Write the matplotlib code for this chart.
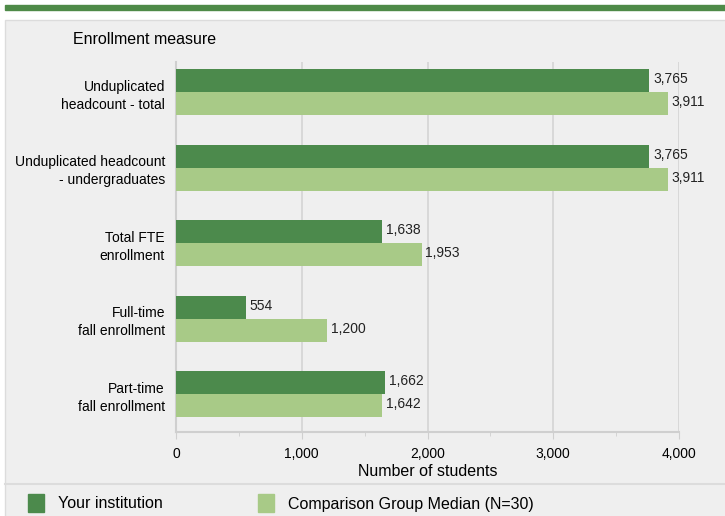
import numpy as np
import matplotlib.pyplot as plt
from matplotlib.patches import Rectangle

plt.rcParams['font.family'] = ['Liberation Sans', 'DejaVu Sans']

categories = ["Unduplicated\nheadcount - total",
              "Unduplicated headcount\n- undergraduates",
              "Total FTE\nenrollment",
              "Full-time\nfall enrollment",
              "Part-time\nfall enrollment"]
your_inst = [3765, 3765, 1638, 554, 1662]
comparison = [3911, 3911, 1953, 1200, 1642]
series_names = ["Your institution", "Comparison Group Median (N=30)"]

dark = "#4c8a4c"
light = "#a8ca87"
panel = "#efefef"

fig = plt.figure(figsize=(7.25, 5.16), dpi=100)
fig.patch.set_facecolor("white")

# top band and panel background (drawn behind the axes)
fig.add_artist(Rectangle((5/725, 1 - 10/516), 720/725, 5/516,
                         transform=fig.transFigure, color="#4e8a48", zorder=-5))
fig.add_artist(Rectangle((5/725, -0.01), 721/725, 1.01 - 20/516,
                         transform=fig.transFigure, facecolor=panel,
                         edgecolor="#dcdcdc", lw=1, zorder=-5))
fig.add_artist(plt.Line2D([5/725, 1], [1 - 484/516] * 2, transform=fig.transFigure,
                          color="#dcdcdc", lw=1.5, zorder=-4))

ax = fig.add_axes([176/725, 1 - 432/516, (679 - 176)/725, (432 - 62)/516])
ax.set_facecolor(panel)
ax.set_zorder(1)

y = np.arange(len(categories))
h = 0.305
b1 = ax.barh(y - h/2, your_inst, height=h, color=dark, zorder=3)
b2 = ax.barh(y + h/2, comparison, height=h, color=light, zorder=3)

for bars, vals in [(b1, your_inst), (b2, comparison)]:
    for bar, v in zip(bars, vals):
        ax.text(bar.get_width() + 30, bar.get_y() + bar.get_height()/2 - 0.02, f"{v:,}",
                va="center", ha="left", fontsize=10, color="#222222", zorder=4)

ax.set_xlim(0, 4000)
ax.set_ylim(4.5, -0.404)
ax.set_yticks(y)
ax.set_yticklabels(categories, fontsize=10, linespacing=1.35)
ax.tick_params(axis="y", length=0, pad=8)
ax.set_xticks([0, 1000, 2000, 3000, 4000])
ax.set_xticks([500, 1500, 2500, 3500], minor=True)
ax.set_xticklabels(["0", "1,000", "2,000", "3,000", "4,000"], fontsize=10)
ax.tick_params(axis="x", which="major", length=5, color="#cfcfcf", pad=6)
ax.tick_params(axis="x", which="minor", length=3, color="#cfcfcf")
ax.set_xlabel("Number of students", fontsize=11.5, labelpad=2)
ax.grid(axis="x", color="#d4d4d4", lw=1.2, zorder=0)

for s in ["top", "right"]:
    ax.spines[s].set_visible(False)
ax.spines["left"].set_color("#cfcfcf")
ax.spines["left"].set_linewidth(1.5)
ax.spines["bottom"].set_color("#cfcfcf")
ax.spines["bottom"].set_linewidth(1.5)

fig.text(73/725, 1 - 40/516, "Enrollment measure", fontsize=11.5, va="center", ha="left")

# legend
for x0, col, name in [(28, dark, series_names[0]), (258, light, series_names[1])]:
    fig.add_artist(Rectangle((x0/725, 1 - 512/516), 16/725, 18/516,
                             transform=fig.transFigure, color=col))
    fig.text((x0 + 30)/725, 1 - 504/516, name, fontsize=11.5, va="center", ha="left")

fig.savefig("out.png", dpi=100, facecolor=fig.get_facecolor())
